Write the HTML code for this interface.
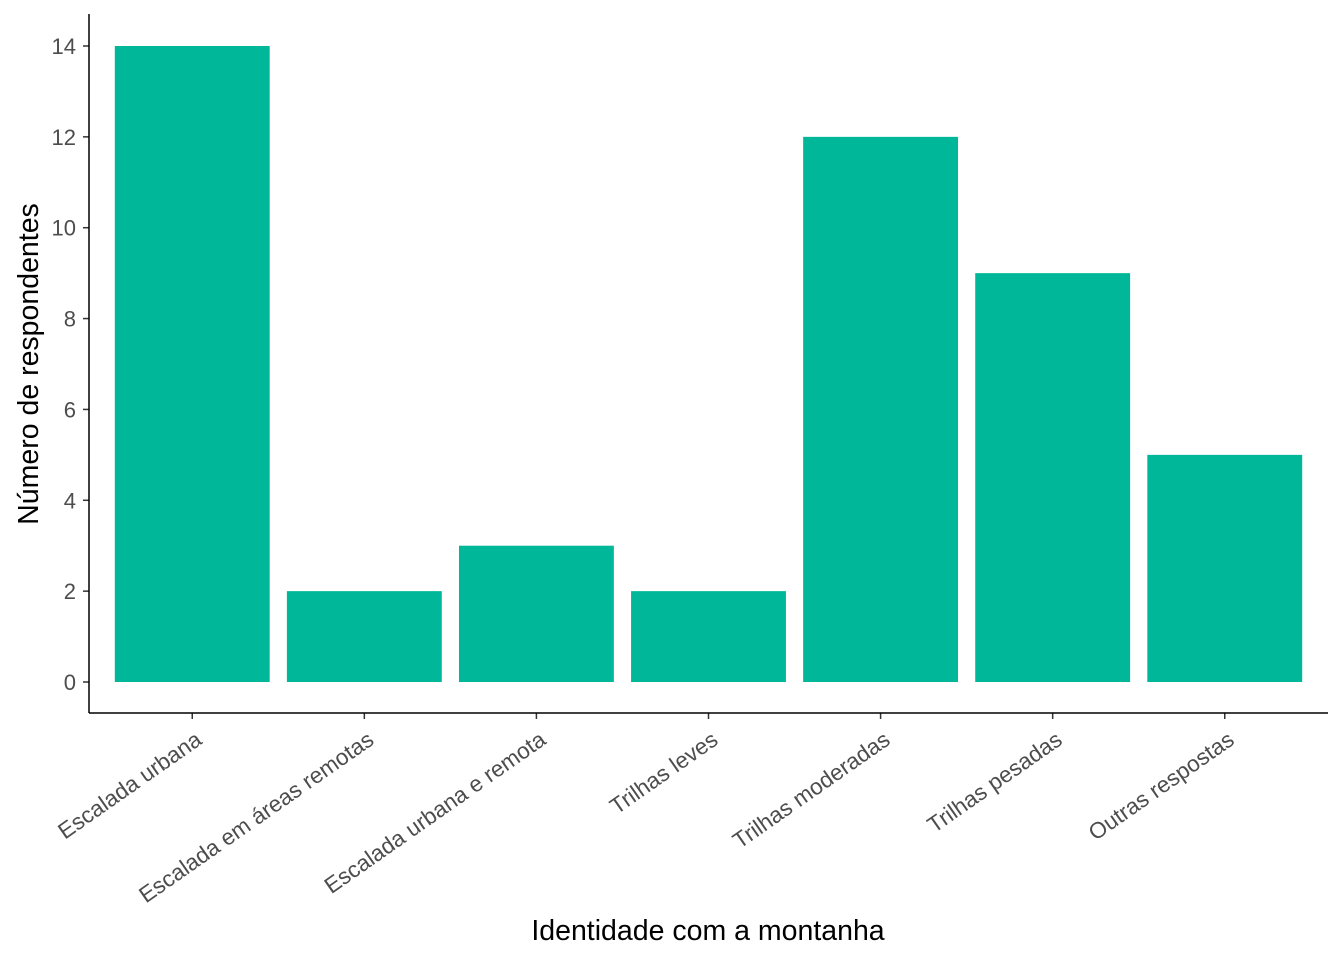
<!DOCTYPE html>
<html><head><meta charset="utf-8"><style>
html,body{margin:0;padding:0;background:#fff;}
svg{display:block;font-family:"Liberation Sans",Arial,sans-serif;}
</style></head><body>
<svg id="chart" width="1344" height="960"></svg>
<script>
const categories=["Escalada urbana","Escalada em áreas remotas","Escalada urbana e remota","Trilhas leves","Trilhas moderadas","Trilhas pesadas","Outras respostas"];
const values=[14,2,3,2,12,9,5];
const yTicks=[0,2,4,6,8,10,12,14];
const NS="http://www.w3.org/2000/svg";
const svg=document.getElementById('chart');
const L=89,R=1328,T=14,B=713;
const band=(R-L)/(categories.length+0.2);
function xc(i){return L+(i+1-0.4)*band;}
function y(v){return 682-v*(636/14);}
function mk(tag,attrs,parent){const e=document.createElementNS(NS,tag);for(const k in attrs)e.setAttribute(k,attrs[k]);(parent||svg).appendChild(e);return e;}
categories.forEach((c,i)=>{
  const w=band*0.9;
  const r=mk('rect',{x:xc(i)-w/2,y:y(values[i]),width:w,height:y(0)-y(values[i]),fill:'#00b899'});
  
  
  const t=mk('line',{x1:xc(i),x2:xc(i),y1:B,y2:B+6,stroke:'#333','stroke-width':1.5});
  
  
  const lb=mk('text',{x:0,y:0,'text-anchor':'end','font-size':22.5,fill:'#4d4d4d',transform:`translate(${xc(i)+11},${B+30}) rotate(-35)`});
  lb.textContent=c;
  
  
});
yTicks.forEach(v=>{
  const t=mk('line',{x1:L-6,x2:L,y1:y(v),y2:y(v),stroke:'#333','stroke-width':1.5});
  
  
  const lb=mk('text',{x:L-13,y:y(v)+8,'text-anchor':'end','font-size':22,fill:'#4d4d4d'});
  lb.textContent=v;
  
  
});
const ax=mk('line',{x1:L,x2:L,y1:T,y2:B,stroke:'#000','stroke-width':1.5});


const axx=mk('line',{x1:L,x2:R,y1:B,y2:B,stroke:'#000','stroke-width':1.5});


const xt=mk('text',{x:708,y:940,'text-anchor':'middle','font-size':28.5,fill:'#000'});
xt.textContent='Identidade com a montanha';


const yt=mk('text',{x:0,y:0,'text-anchor':'middle','font-size':28.5,fill:'#000',transform:'translate(38,364) rotate(-90)'});
yt.textContent='Número de respondentes';


</script>
</body></html>
